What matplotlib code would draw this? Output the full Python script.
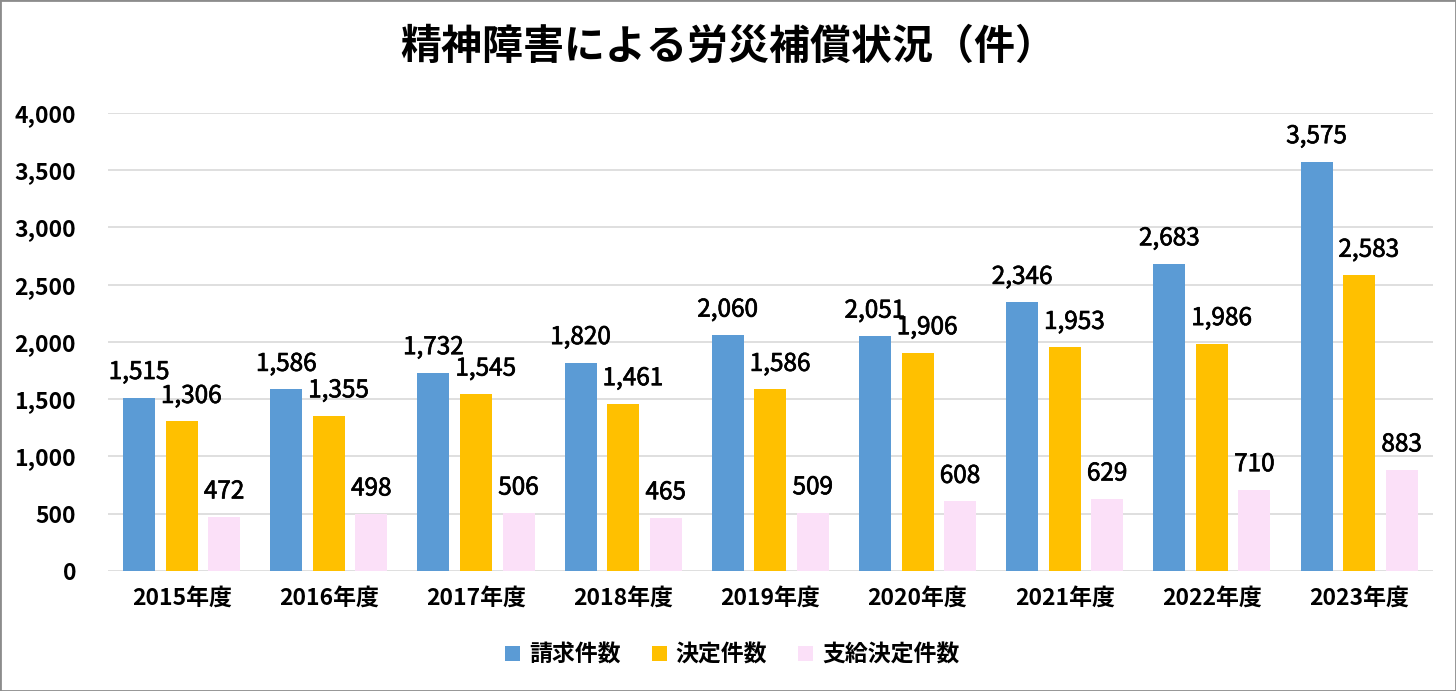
import matplotlib.pyplot as plt
import matplotlib.patheffects as pe
import numpy as np
from matplotlib.patches import Rectangle

plt.rcParams['font.family'] = ['Noto Sans CJK JP', 'DejaVu Sans']

years = ["2015年度", "2016年度", "2017年度", "2018年度", "2019年度",
         "2020年度", "2021年度", "2022年度", "2023年度"]
claims = [1515, 1586, 1732, 1820, 2060, 2051, 2346, 2683, 3575]
decisions = [1306, 1355, 1545, 1461, 1586, 1906, 1953, 1986, 2583]
approved = [472, 498, 506, 465, 509, 608, 629, 710, 883]

# name, values, colour, label x-nudge (points)
series = [("請求件数", claims, "#5B9BD5", 0),
          ("決定件数", decisions, "#FFC000", 7),
          ("支給決定件数", approved, "#FBE0F8", 0)]

fig = plt.figure(figsize=(14.56, 6.91), dpi=100)
ax = fig.add_axes([0.0742, 0.1737, 0.9098, 0.6628])

x = np.arange(len(years))
step = 0.289
width = 0.217
thick = [pe.withStroke(linewidth=0.5, foreground="black")]
for i, (name, vals, color, dx) in enumerate(series):
    pos = x + (i - 1) * step
    ax.bar(pos, vals, width, color=color, label=name, zorder=3)
    for px, v in zip(pos, vals):
        ax.annotate(f"{v:,}", (px, v), xytext=(dx, 9), textcoords="offset points",
                    ha="center", va="bottom", fontsize=17.5, color="black",
                    path_effects=thick)

ax.set_xlim(-0.5, len(years) - 0.5)
ax.set_ylim(0, 4000)
ax.set_yticks(range(0, 4001, 500))
ax.set_yticklabels([f"{t:,}" for t in range(0, 4001, 500)], fontsize=16.5,
                   fontweight="bold")
ax.set_xticks(x)
ax.set_xticklabels(years, fontsize=16.5, fontweight="bold")
ax.tick_params(axis="y", length=0, pad=23)
ax.tick_params(axis="x", length=0, pad=11)
ax.grid(axis="y", color="#D9D9D9", linewidth=1.2, zorder=0)
for s in ax.spines.values():
    s.set_visible(False)

fig.suptitle("精神障害による労災補償状況（件）", fontsize=29.5, fontweight="bold",
             y=0.963)

handles, labels = ax.get_legend_handles_labels()
fig.legend(handles, labels, loc="center", bbox_to_anchor=(0.503, 0.052), ncol=3,
           frameon=False, prop={"size": 16.5, "weight": "bold"},
           handlelength=0.65, handleheight=0.65, handletextpad=0.4,
           columnspacing=1.35)

fig.patches.append(Rectangle((0, 0), 1, 1, transform=fig.transFigure,
                             fill=False, edgecolor="#8C8C8C", linewidth=2))

fig.savefig("out.png", dpi=100)
